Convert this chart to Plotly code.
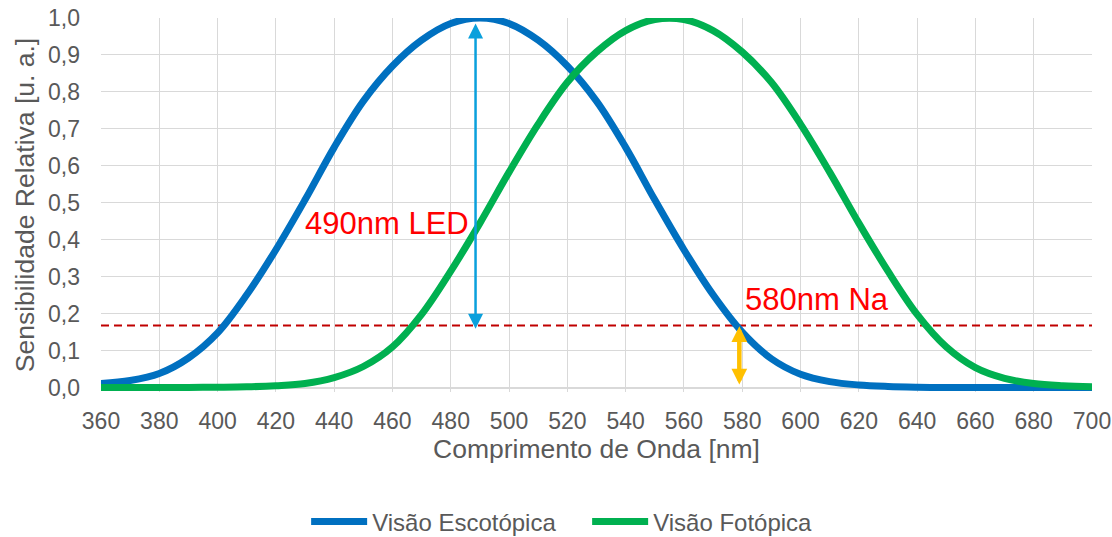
import plotly.graph_objects as go

# ---- data ----
wavelength = [360, 370, 380, 390, 400, 410, 420, 430, 440, 450, 460, 470, 480, 490,
              500, 510, 520, 530, 540, 550, 560, 570, 580, 590, 600, 610, 620, 630,
              640, 650, 660, 670, 680, 690, 700]
escotopica = [0.011, 0.019, 0.038, 0.08, 0.148, 0.251, 0.373, 0.508, 0.65, 0.775, 0.87, 0.94, 0.985, 1.0,
              0.985, 0.94, 0.87, 0.775, 0.65, 0.508, 0.373, 0.251, 0.15, 0.078, 0.036, 0.016, 0.007, 0.003,
              0.001, 0.0, 0.0, 0.0, 0.0, 0.0, 0.0]
fotopica = [0.0, 0.0, 0.0, 0.0005, 0.001, 0.002, 0.005, 0.011, 0.027, 0.057, 0.11, 0.198, 0.315, 0.445,
            0.583, 0.713, 0.826, 0.908, 0.966, 0.996, 0.996, 0.966, 0.908, 0.826, 0.713, 0.583, 0.445, 0.315,
            0.198, 0.11, 0.054, 0.025, 0.011, 0.005, 0.002]

na_level = 0.168          # horizontal dashed reference level
led_wl = 488.5            # 490 nm LED arrow position
led_range = [0.155, 0.985]
na_wl = 579               # 580 nm Na arrow position
na_range = [0.004, 0.166]

x_ticks = list(range(360, 701, 20))
y_ticks = [i / 10 for i in range(11)]
y_ticklabels = [f"{v:.1f}".replace(".", ",") for v in y_ticks]

BLUE = "#0070C0"
GREEN = "#00B050"
CYAN = "#0AA0DC"
YELLOW = "#FFC000"
DRED = "#C00000"
GRAY = "#595959"
GRID = "#D9D9D9"
FONT = "Arial, Liberation Sans, sans-serif"

fig = go.Figure()

fig.add_trace(go.Scatter(
    x=[wavelength[0], wavelength[-1]], y=[na_level, na_level], mode="lines",
    line=dict(color=DRED, width=2, dash="8px,5px"), showlegend=False, hoverinfo="skip"))

fig.add_trace(go.Scatter(
    x=wavelength, y=escotopica, mode="lines", name="Visão Escotópica",
    line=dict(color=BLUE, width=7, shape="spline", smoothing=1.0)))
fig.add_trace(go.Scatter(
    x=wavelength, y=fotopica, mode="lines", name="Visão Fotópica",
    line=dict(color=GREEN, width=7, shape="spline", smoothing=1.0)))

# double-headed arrows
fig.add_annotation(x=led_wl, y=led_range[1], ax=led_wl, ay=led_range[0],
                   xref="x", yref="y", axref="x", ayref="y", text="",
                   showarrow=True, arrowhead=2, startarrowhead=2, arrowside="end+start",
                   arrowwidth=2.5, arrowsize=1.2, startarrowsize=1.2, arrowcolor=CYAN)
fig.add_annotation(x=na_wl, y=na_range[1], ax=na_wl, ay=na_range[0],
                   xref="x", yref="y", axref="x", ayref="y", text="",
                   showarrow=True, arrowhead=2, startarrowhead=2, arrowside="end+start",
                   arrowwidth=4.5, arrowsize=0.7, startarrowsize=0.7, arrowcolor=YELLOW)

# labels
fig.add_annotation(x=487, y=0.445, xref="x", yref="y", text="490nm LED", showarrow=False,
                   xanchor="right", yanchor="middle", font=dict(family=FONT, size=31, color="#FF0000"))
fig.add_annotation(x=580.3, y=0.238, xref="x", yref="y", text="580nm Na", showarrow=False,
                   xanchor="left", yanchor="middle", font=dict(family=FONT, size=31, color="#FF0000"))

fig.update_layout(
    width=1112, height=537,
    margin=dict(l=101, r=20, t=18, b=145, autoexpand=False),
    paper_bgcolor="white", plot_bgcolor="white",
    font=dict(family=FONT, color=GRAY),
    showlegend=True,
    legend=dict(orientation="h", x=0.528, xref="container", xanchor="center",
                y=0.028, yref="container", yanchor="middle",
                font=dict(family=FONT, size=24, color=GRAY), itemwidth=56,
                entrywidth=210, entrywidthmode="pixels"),
)
fig.update_xaxes(range=[360, 700], tickvals=x_ticks, ticktext=[str(v) for v in x_ticks],
                 showgrid=True, gridcolor=GRID, gridwidth=1.3, zeroline=False, showline=False,
                 ticks="", tickfont=dict(family=FONT, size=23, color=GRAY), ticklabelstandoff=13,
                 title=dict(text="Comprimento de Onda [nm]", font=dict(family=FONT, size=26.5, color=GRAY),
                            standoff=5))
fig.update_yaxes(range=[-0.012, 1.0], tickvals=y_ticks, ticktext=y_ticklabels,
                 showgrid=True, gridcolor=GRID, gridwidth=1.3, zeroline=True, zerolinecolor=GRID,
                 zerolinewidth=1.5, showline=False, ticks="", ticklabelstandoff=20,
                 tickfont=dict(family=FONT, size=23, color=GRAY),
                 title=dict(text="Sensibilidade Relativa [u. a.]", font=dict(family=FONT, size=26.5, color=GRAY),
                            standoff=5))

fig.write_html("out.html", config={"displayModeBar": False},
               post_script="document.body.style.margin='0';")
